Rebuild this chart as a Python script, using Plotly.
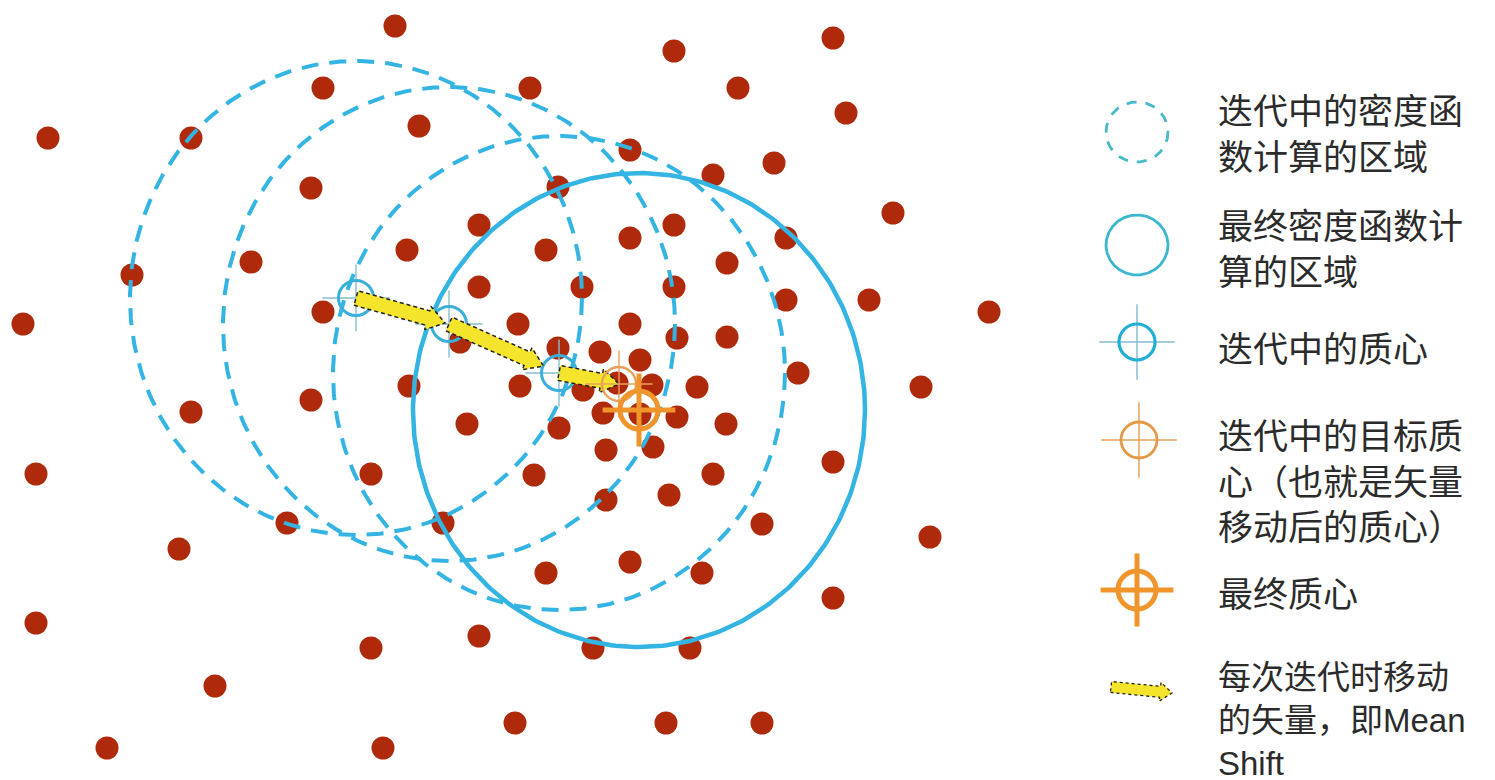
import numpy as np
import plotly.graph_objects as go

W, H = 1495, 780

# ---------------- data (pixel-like units) ----------------
dot_x = [395, 674, 833,
         323, 530, 738, 846,
         48, 191, 419,
         630, 774, 713,
         311, 558, 893,
         479, 674, 630, 546, 786, 407, 251, 132, 727,
         479, 582, 674, 786, 869, 989,
         23, 323, 518, 630, 677, 727,
         460, 558, 600, 640,
         798, 921,
         409, 520, 583, 617, 652, 697,
         191, 311, 603, 640, 677, 726,
         467, 559,
         606, 653, 833,
         36, 371, 534, 713,
         606, 669,
         287, 443, 762, 930,
         179, 630, 546, 702, 833,
         36, 479, 371, 593, 690,
         215,
         107, 383, 515, 666, 762]
dot_y = [26, 51, 38,
         88, 88, 88, 113,
         138, 138, 126,
         150, 163, 175,
         188, 187, 213,
         225, 225, 238, 250, 238, 250, 262, 275, 263,
         287, 287, 287, 300, 300, 312,
         324, 312, 324, 324, 338, 337,
         342, 348, 352, 360,
         373, 387,
         386, 386, 390, 383, 385, 387,
         412, 400, 413, 414, 417, 424,
         424, 428,
         450, 447, 462,
         474, 474, 475, 474,
         500, 495,
         523, 523, 524, 537,
         549, 562, 573, 573, 598,
         623, 636, 648, 648, 648,
         686,
         748, 748, 723, 723, 723]

centroid_x = [356, 449, 559]      # centroids during iterations
centroid_y = [298, 324, 373]
target_x = [619]                  # target centroid of the last shift
target_y = [384]
final_x = [639]                   # final centroid
final_y = [410]

bandwidth_x = 226                 # kernel window radii
bandwidth_y = 237
arrow_shrink = [4, 17, 0]

legend_labels = ["迭代中的密度函<br>数计算的区域",
                 "最终密度函数计<br>算的区域",
                 "迭代中的质心",
                 "迭代中的目标质<br>心（也就是矢量<br>移动后的质心）",
                 "最终质心",
                 "每次迭代时移动<br>的矢量，即Mean<br>Shift"]

# ---------------- styles / layout positions ----------------
DOT = "#AE2A0B"
CYAN = "#33B4E2"
RING = "#3AAFD9"
CROSS = "#86BFD2"
ORANGE_T = "#E8A15A"
ORANGE = "#F0952B"
YELLOW = "#F4E52C"
TXT = "#2B2B2B"
FONT = "Liberation Sans, Noto Sans CJK SC"

leg_icon_x = 1137
leg_icon_y = [132, 245, 342, 440, 590, 690]
leg_text_x = 1216
leg_text_y = [134, 249, 349, 482, 594, 720]
leg_text_size = [35, 35, 35, 35, 35, 33]


def ellipse(cx, cy, rx, ry, n=361):
    t = np.linspace(0, 2 * np.pi, n)
    return cx + rx * np.cos(t), cy + ry * np.sin(t)


def arrow_poly(x0, y0, x1, y1, hw=7.5, hh=12, hl=18):
    p0 = np.array([x0, y0], float)
    p1 = np.array([x1, y1], float)
    u = (p1 - p0) / np.linalg.norm(p1 - p0)
    n = np.array([-u[1], u[0]])
    b = p1 - u * hl
    pts = [p0 + n * hw, b + n * hw, b + n * hh, p1, b - n * hh, b - n * hw, p0 - n * hw, p0 + n * hw]
    return [p[0] for p in pts], [p[1] for p in pts]


fig = go.Figure()

# data points
fig.add_trace(go.Scatter(x=dot_x, y=dot_y, mode="markers",
                         marker=dict(size=23, color=DOT, line=dict(width=0))))

# kernel windows during iterations (dashed)
for cx, cy in zip(centroid_x, centroid_y):
    ex, ey = ellipse(cx, cy, bandwidth_x, bandwidth_y)
    fig.add_trace(go.Scatter(x=ex, y=ey, mode="lines",
                             line=dict(color=CYAN, width=4, dash="17px,11px")))

# final window (solid)
ex, ey = ellipse(final_x[0], final_y[0], bandwidth_x, bandwidth_y)
fig.add_trace(go.Scatter(x=ex, y=ey, mode="lines", line=dict(color=CYAN, width=4.5)))

# centroids of iterations
fig.add_trace(go.Scatter(x=centroid_x, y=centroid_y, mode="markers",
                         marker=dict(symbol="cross-thin", size=48, color=CROSS,
                                     line=dict(width=1.4, color=CROSS))))
fig.add_trace(go.Scatter(x=centroid_x, y=centroid_y, mode="markers",
                         marker=dict(symbol="circle-open", size=35, color=RING,
                                     line=dict(width=3, color=RING))))

# mean shift vectors
path_x = centroid_x + target_x
path_y = centroid_y + target_y
for i in range(len(path_x) - 1):
    x0, y0, x1, y1 = path_x[i], path_y[i], path_x[i + 1], path_y[i + 1]
    d = np.hypot(x1 - x0, y1 - y0)
    s = arrow_shrink[i]
    x1s = x1 - (x1 - x0) * s / d
    y1s = y1 - (y1 - y0) * s / d
    ax, ay = arrow_poly(x0, y0, x1s, y1s)
    fig.add_trace(go.Scatter(x=ax, y=ay, mode="lines", fill="toself", fillcolor=YELLOW,
                             line=dict(color="#222222", width=1.5, dash="4px,3px")))

# target centroid
fig.add_trace(go.Scatter(x=target_x, y=target_y, mode="markers",
                         marker=dict(symbol="cross-thin", size=48, color=ORANGE_T,
                                     line=dict(width=1.4, color=ORANGE_T))))
fig.add_trace(go.Scatter(x=target_x, y=target_y, mode="markers",
                         marker=dict(symbol="circle-open", size=34, color=ORANGE_T,
                                     line=dict(width=2.4, color=ORANGE_T))))

# final centroid
fig.add_trace(go.Scatter(x=final_x, y=final_y, mode="markers",
                         marker=dict(symbol="cross-thin", size=52, color=ORANGE,
                                     line=dict(width=5, color=ORANGE))))
fig.add_trace(go.Scatter(x=final_x, y=final_y, mode="markers",
                         marker=dict(symbol="circle-open", size=38, color=ORANGE,
                                     line=dict(width=5, color=ORANGE))))

# ---------------- legend (drawn) ----------------
lx = leg_icon_x
ex, ey = ellipse(lx, leg_icon_y[0], 31, 30)
fig.add_trace(go.Scatter(x=ex, y=ey, mode="lines",
                         line=dict(color="#48B8CC", width=2.8, dash="10px,9px")))
ex, ey = ellipse(lx, leg_icon_y[1], 31, 30)
fig.add_trace(go.Scatter(x=ex, y=ey, mode="lines", line=dict(color="#3DB6CF", width=2.8)))

fig.add_trace(go.Scatter(x=[lx], y=[leg_icon_y[2]], mode="markers",
                         marker=dict(symbol="cross-thin", size=54, color=CROSS,
                                     line=dict(width=1.5, color=CROSS))))
fig.add_trace(go.Scatter(x=[lx], y=[leg_icon_y[2]], mode="markers",
                         marker=dict(symbol="circle-open", size=36, color="#1FAFD6",
                                     line=dict(width=3.2, color="#1FAFD6"))))

fig.add_trace(go.Scatter(x=[lx + 2], y=[leg_icon_y[3]], mode="markers",
                         marker=dict(symbol="cross-thin", size=54, color=ORANGE_T,
                                     line=dict(width=1.5, color=ORANGE_T))))
fig.add_trace(go.Scatter(x=[lx + 2], y=[leg_icon_y[3]], mode="markers",
                         marker=dict(symbol="circle-open", size=36, color="#E39A45",
                                     line=dict(width=2.8, color="#E39A45"))))

fig.add_trace(go.Scatter(x=[lx], y=[leg_icon_y[4]], mode="markers",
                         marker=dict(symbol="cross-thin", size=52, color=ORANGE,
                                     line=dict(width=5, color=ORANGE))))
fig.add_trace(go.Scatter(x=[lx], y=[leg_icon_y[4]], mode="markers",
                         marker=dict(symbol="circle-open", size=38, color=ORANGE,
                                     line=dict(width=5, color=ORANGE))))

ax, ay = arrow_poly(lx - 26, leg_icon_y[5] - 3, lx + 35, leg_icon_y[5] + 3, hw=5.5, hh=9.5, hl=12)
fig.add_trace(go.Scatter(x=ax, y=ay, mode="lines", fill="toself", fillcolor=YELLOW,
                         line=dict(color="#222222", width=1.3, dash="3px,3px")))

annotations = []
for text, y, fs in zip(legend_labels, leg_text_y, leg_text_size):
    annotations.append(dict(x=leg_text_x, y=y, xref="x", yref="y", text=text,
                            showarrow=False, xanchor="left", yanchor="middle", align="left",
                            font=dict(family=FONT, size=fs, color=TXT)))

fig.update_layout(
    width=W, height=H, autosize=False,
    margin=dict(l=0, r=0, t=0, b=0),
    paper_bgcolor="white", plot_bgcolor="white",
    showlegend=False, hovermode=False,
    xaxis=dict(range=[0, W], visible=False, fixedrange=True),
    yaxis=dict(range=[H, 0], visible=False, fixedrange=True),
    annotations=annotations,
)

fig.write_html("out.html", config={"displayModeBar": False},
               post_script="document.body.style.margin='0';document.body.style.overflow='hidden';")
